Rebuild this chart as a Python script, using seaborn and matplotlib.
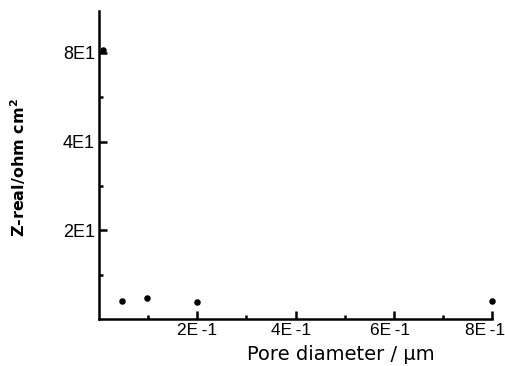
import matplotlib
matplotlib.use("Agg")
import matplotlib.pyplot as plt
import matplotlib.transforms as mtransforms
import seaborn as sns
import numpy as np
import pandas as pd

# Data
pore_diameter_um = [0.008, 0.047, 0.097, 0.200, 0.800]
z_real_ohm_cm2 = [82.0, 11.5, 11.8, 11.4, 11.5]

x_ticks = [0.2, 0.4, 0.6, 0.8]
x_tick_labels = ["2E\u2009-1", "4E\u2009-1", "6E\u2009-1", "8E\u2009-1"]
x_minor = [0.1, 0.3, 0.5, 0.7]
y_ticks = [20, 40, 80]
y_tick_labels = ["2E1", "4E1", "8E1"]

df = pd.DataFrame({"d": pore_diameter_um, "z": z_real_ohm_cm2})

sns.set_theme(style="ticks")
plt.rcParams["font.family"] = ["Liberation Sans", "DejaVu Sans"]
plt.rcParams["text.color"] = "black"
plt.rcParams["axes.labelcolor"] = "black"
plt.rcParams["xtick.color"] = "black"
plt.rcParams["ytick.color"] = "black"

fig = plt.figure(figsize=(5.06, 3.66), dpi=100)
ax = fig.add_axes([0.1957, 0.1284, 0.7766, 0.8416])

sns.scatterplot(data=df, x="d", y="z", ax=ax, color="black", s=22,
                edgecolor="black", linewidth=0, clip_on=False, zorder=5)

ax.set_yscale("log", base=2)
ax.set_xlim(0, 0.8)
ax.set_ylim(10, 111)

ax.set_xticks(x_ticks)
ax.set_xticklabels(x_tick_labels)
ax.set_xticks(x_minor, minor=True)
ax.set_yticks(y_ticks)
ax.set_yticklabels(y_tick_labels)
ax.set_yticks([np.sqrt(y_ticks[0] * y_ticks[0] / 2), np.sqrt(y_ticks[0] * y_ticks[1]),
               np.sqrt(y_ticks[1] * y_ticks[2])], minor=True)
ax.yaxis.set_minor_formatter(matplotlib.ticker.NullFormatter())

for s in ["top", "right"]:
    ax.spines[s].set_visible(False)
for s in ["left", "bottom"]:
    ax.spines[s].set_linewidth(1.8)
    ax.spines[s].set_color("black")

ax.tick_params(axis="both", which="major", direction="in", length=6, width=1.8,
               labelsize=13, color="black", labelcolor="black", pad=3)
ax.tick_params(axis="x", which="major", labelsize=12.5)
ax.tick_params(axis="both", which="minor", direction="in", length=3, width=1.8,
               color="black")

# shift the x tick labels slightly left, as in the reference
offset = mtransforms.ScaledTranslation(-4 / 100, 0, fig.dpi_scale_trans)
for lab in ax.get_xticklabels()[1:]:
    lab.set_transform(lab.get_transform() + offset)
last = ax.get_xticklabels()[-1]
last.set_transform(last.get_transform() + mtransforms.ScaledTranslation(-3 / 100, 0, fig.dpi_scale_trans))

ax.set_xlabel("Pore diameter / µm", fontsize=14, family="DejaVu Sans")
ax.xaxis.set_label_coords(0.616, -0.085)
ax.set_ylabel("Z-real/ohm cm$^\\mathbf{2}$", fontsize=11.5, fontweight="bold",
              family="DejaVu Sans")
ax.yaxis.set_label_coords(-0.18, 0.49)

fig.savefig("out.png", dpi=100)
